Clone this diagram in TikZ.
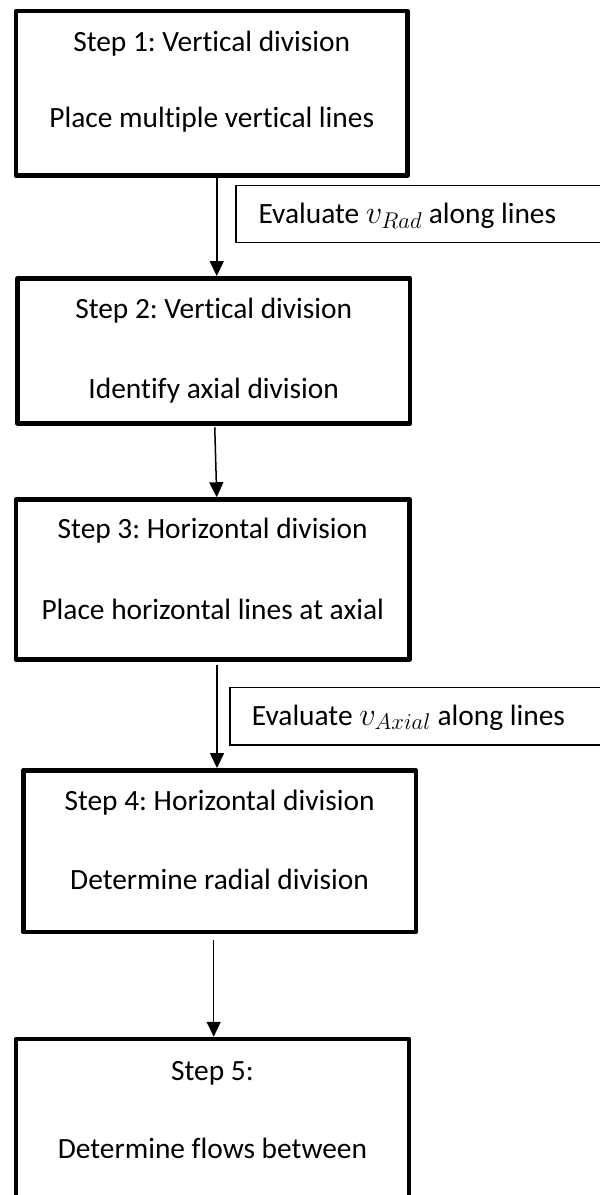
\RequirePackage{fix-cm}
\documentclass[tikz,border=0pt]{standalone}
\usepackage{fontspec}
\setmainfont{Carlito}[Ligatures=NoCommon]
\usetikzlibrary{arrows.meta}
\frenchspacing
\newcommand{\bigmath}[1]{{\fontsize{32.5}{38}\selectfont$#1$}}
\begin{document}
\begin{tikzpicture}[x=1pt,y=-1pt,
  stepbox/.style={draw, line width=4.5pt, line join=round, rectangle, inner sep=0pt},
  evalbox/.style={draw, line width=1.3pt, rectangle, inner sep=0pt},
  txt/.style={anchor=base, inner sep=0pt, font=\fontsize{29.4}{35}\selectfont},
  evaltxt/.style={txt, anchor=base west},
  arr/.style={-{Triangle[width=14pt,length=15pt]}, line width=1.5pt}]
\useasboundingbox (0,0) rectangle (600,1195);
\clip (0,0) rectangle (600,1195);

% step boxes
\node[stepbox, minimum width=391.5pt, minimum height=164.5pt] (b1) at (211.75,93.25) {};
\node[stepbox, minimum width=392.5pt, minimum height=145pt]   (b2) at (213.75,350.8) {};
\node[stepbox, minimum width=393.5pt, minimum height=160pt]   (b3) at (212.75,579.5) {};
\node[stepbox, minimum width=392.5pt, minimum height=161.7pt] (b4) at (219.55,851.15) {};
\node[stepbox, minimum width=393.2pt, minimum height=201pt]   (b5) at (212.4,1139.5) {};

% step texts
\node[txt] (t1a) at (211.75,51)   {Step 1: Vertical division};
\node[txt] (t1b) at (211.75,127)  {Place multiple vertical lines};
\node[txt] (t2a) at (213.75,318.3) {Step 2: Vertical division};
\node[txt] (t2b) at (213.75,398.3) {Identify axial division};
\node[txt] (t3a) at (212.75,538.3) {Step 3: Horizontal division};
\node[txt] (t3b) at (212.75,619.5) {Place horizontal lines at axial};
\node[txt] (t4a) at (219.55,810)  {Step 4: Horizontal division};
\node[txt] (t4b) at (219.55,889)  {Determine radial division};
\node[txt] (t5a) at (212.4,1080)  {Step 5:};
\node[txt] (t5b) at (212.4,1158.3) {Determine flows between};

% side notes
\node[evalbox, minimum width=404pt, minimum height=57pt] (e1) at (438,214) {};
\node[evaltxt] (e1t) at (258.3,223.3) {Evaluate \bigmath{v_{Rad}} along lines};
\node[evalbox, minimum width=410pt, minimum height=57.3pt] (e2) at (435,716.35) {};
\node[evaltxt] (e2t) at (251.7,725) {Evaluate \bigmath{v_{Axial}} along lines};

% flow arrows
\draw[arr] ([xshift=5pt]b1.south) -- ([xshift=3pt]b2.north);
\draw[arr] ([xshift=1pt,yshift=-1.7pt]b2.south) -- ([xshift=4pt]b3.north);
\draw[arr] ([xshift=4.25pt,yshift=-3.5pt]b3.south) -- ([xshift=-2.55pt]b4.north);
\draw[arr] ([xshift=-5.85pt,yshift=-6pt]b4.south) -- ([xshift=1.3pt]b5.north);
\end{tikzpicture}
\end{document}
